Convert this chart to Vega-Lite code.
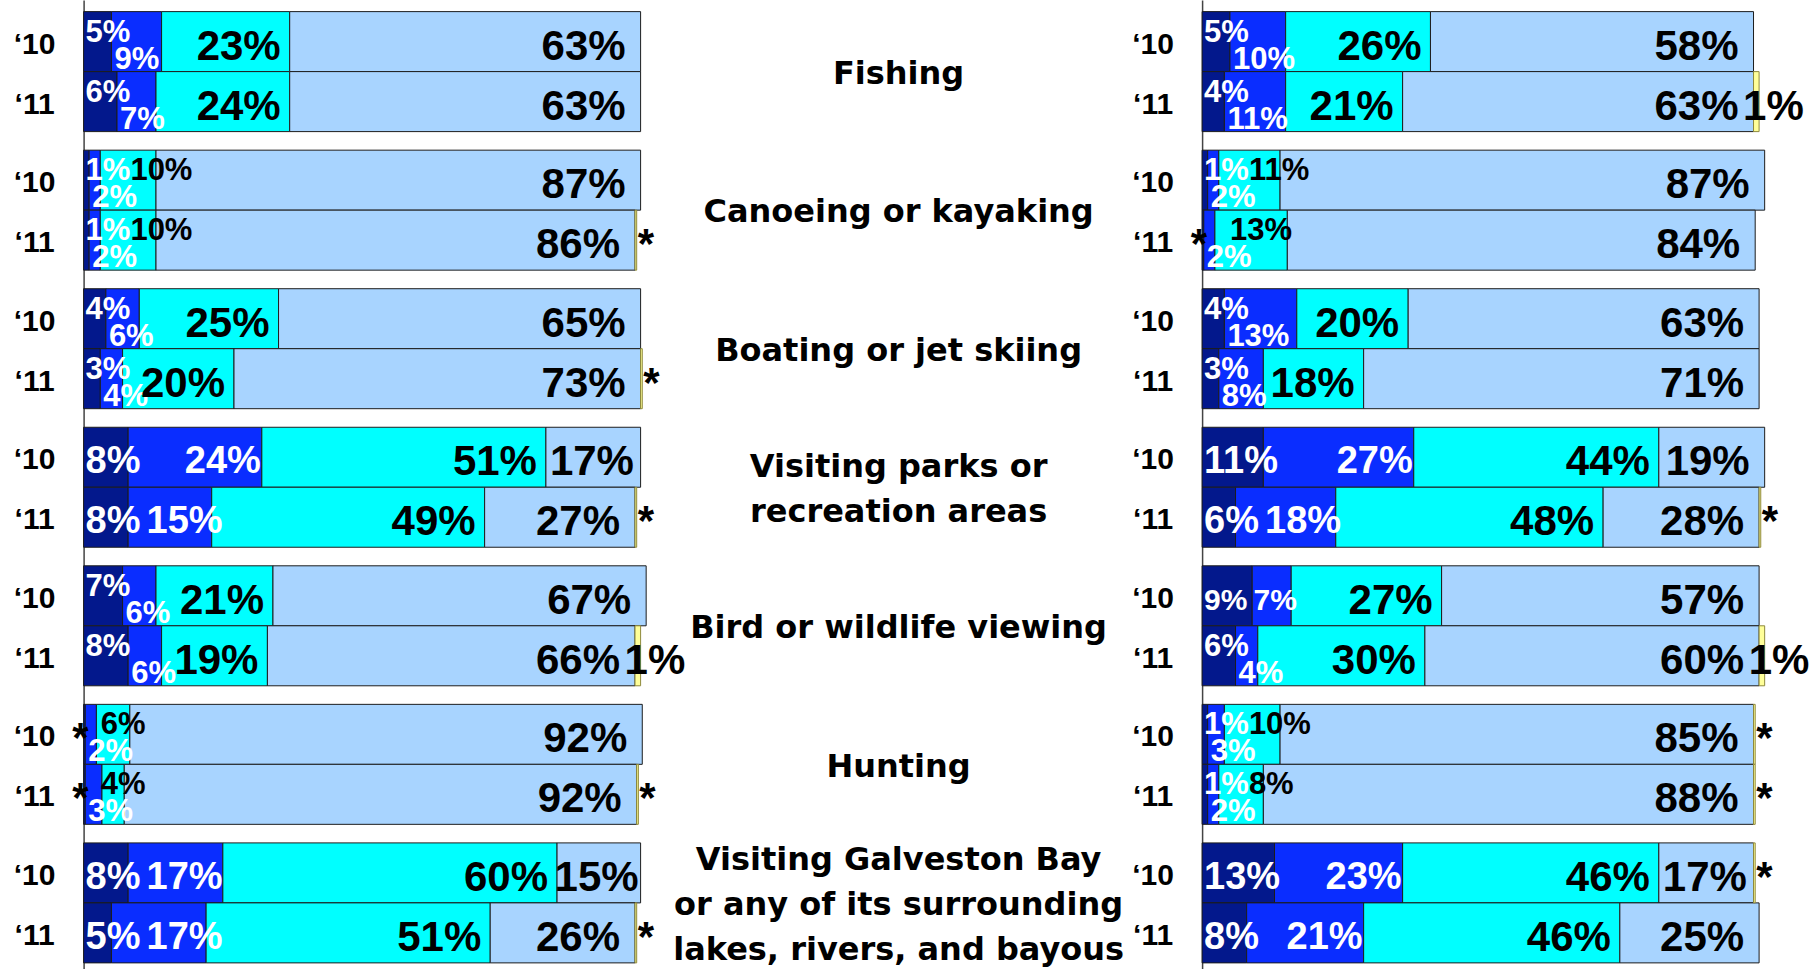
{
  "$schema": "https://vega.github.io/schema/vega-lite/v6.json",
  "autosize": {"type": "pad"},
  "padding": {"left": 13.6, "top": 0, "right": 0, "bottom": 0},
  "background": "white",
  "bounds": "flush",
  "spacing": 561.5,
  "config": {"view": {"stroke": null}, "text": {"font": "Liberation Sans", "fontWeight": "bold"}},
  "datasets": {
    "survey": [
      {"panel": "L", "activity": "Fishing", "year": "‘10", "navy": 5, "blue": 9, "cyan": 23, "light": 63, "dk": 0},
      {"panel": "L", "activity": "Fishing", "year": "‘11", "navy": 6, "blue": 7, "cyan": 24, "light": 63, "dk": 0},
      {"panel": "L", "activity": "Canoeing or kayaking", "year": "‘10", "navy": 1, "blue": 2, "cyan": 10, "light": 87, "dk": 0},
      {"panel": "L", "activity": "Canoeing or kayaking", "year": "‘11", "navy": 1, "blue": 2, "cyan": 10, "light": 86, "dk": 0.3},
      {"panel": "L", "activity": "Boating or jet skiing", "year": "‘10", "navy": 4, "blue": 6, "cyan": 25, "light": 65, "dk": 0},
      {"panel": "L", "activity": "Boating or jet skiing", "year": "‘11", "navy": 3, "blue": 4, "cyan": 20, "light": 73, "dk": 0.3},
      {"panel": "L", "activity": "Visiting parks or|recreation areas", "year": "‘10", "navy": 8, "blue": 24, "cyan": 51, "light": 17, "dk": 0},
      {"panel": "L", "activity": "Visiting parks or|recreation areas", "year": "‘11", "navy": 8, "blue": 15, "cyan": 49, "light": 27, "dk": 0.3},
      {"panel": "L", "activity": "Bird or wildlife viewing", "year": "‘10", "navy": 7, "blue": 6, "cyan": 21, "light": 67, "dk": 0},
      {"panel": "L", "activity": "Bird or wildlife viewing", "year": "‘11", "navy": 8, "blue": 6, "cyan": 19, "light": 66, "dk": 1},
      {"panel": "L", "activity": "Hunting", "year": "‘10", "navy": 0.3, "blue": 2, "cyan": 6, "light": 92, "dk": 0},
      {"panel": "L", "activity": "Hunting", "year": "‘11", "navy": 0.3, "blue": 3, "cyan": 4, "light": 92, "dk": 0.3},
      {"panel": "L", "activity": "Visiting Galveston Bay|or any of its surrounding|lakes, rivers, and bayous", "year": "‘10", "navy": 8, "blue": 17, "cyan": 60, "light": 15, "dk": 0},
      {"panel": "L", "activity": "Visiting Galveston Bay|or any of its surrounding|lakes, rivers, and bayous", "year": "‘11", "navy": 5, "blue": 17, "cyan": 51, "light": 26, "dk": 0.3},
      {"panel": "R", "activity": "Fishing", "year": "‘10", "navy": 5, "blue": 10, "cyan": 26, "light": 58, "dk": 0},
      {"panel": "R", "activity": "Fishing", "year": "‘11", "navy": 4, "blue": 11, "cyan": 21, "light": 63, "dk": 1},
      {"panel": "R", "activity": "Canoeing or kayaking", "year": "‘10", "navy": 1, "blue": 2, "cyan": 11, "light": 87, "dk": 0},
      {"panel": "R", "activity": "Canoeing or kayaking", "year": "‘11", "navy": 0.3, "blue": 2, "cyan": 13, "light": 84, "dk": 0},
      {"panel": "R", "activity": "Boating or jet skiing", "year": "‘10", "navy": 4, "blue": 13, "cyan": 20, "light": 63, "dk": 0},
      {"panel": "R", "activity": "Boating or jet skiing", "year": "‘11", "navy": 3, "blue": 8, "cyan": 18, "light": 71, "dk": 0},
      {"panel": "R", "activity": "Visiting parks or|recreation areas", "year": "‘10", "navy": 11, "blue": 27, "cyan": 44, "light": 19, "dk": 0},
      {"panel": "R", "activity": "Visiting parks or|recreation areas", "year": "‘11", "navy": 6, "blue": 18, "cyan": 48, "light": 28, "dk": 0.3},
      {"panel": "R", "activity": "Bird or wildlife viewing", "year": "‘10", "navy": 9, "blue": 7, "cyan": 27, "light": 57, "dk": 0},
      {"panel": "R", "activity": "Bird or wildlife viewing", "year": "‘11", "navy": 6, "blue": 4, "cyan": 30, "light": 60, "dk": 1},
      {"panel": "R", "activity": "Hunting", "year": "‘10", "navy": 1, "blue": 3, "cyan": 10, "light": 85, "dk": 0.3},
      {"panel": "R", "activity": "Hunting", "year": "‘11", "navy": 1, "blue": 2, "cyan": 8, "light": 88, "dk": 0.3},
      {"panel": "R", "activity": "Visiting Galveston Bay|or any of its surrounding|lakes, rivers, and bayous", "year": "‘10", "navy": 13, "blue": 23, "cyan": 46, "light": 17, "dk": 0.3},
      {"panel": "R", "activity": "Visiting Galveston Bay|or any of its surrounding|lakes, rivers, and bayous", "year": "‘11", "navy": 8, "blue": 21, "cyan": 46, "light": 25, "dk": 0}
    ]
  },
  "hconcat": [
    {
      "width": 557, "height": 969,
      "data": {"name": "survey"},
      "transform": [
        {"filter": "datum.panel === 'L'"},
        {"fold": ["navy", "blue", "cyan", "light", "dk"], "as": ["cat", "value"]},
        {"calculate": "indexof(['navy','blue','cyan','light','dk'], datum.cat)", "as": "idx"},
        {"stack": "value", "groupby": ["activity", "year"], "sort": [{"field": "idx", "order": "ascending"}], "as": ["x0", "x1"]},
        {"calculate": "datum.navy < 9 && datum.blue < 14", "as": "crowded"},
        {"calculate": "!datum.crowded && (datum.navy + datum.blue) < 17", "as": "tight"},
        {"calculate": "datum.tight ? 30 : 38", "as": "fs"},
        {"calculate": "datum.value < 0.5 ? '*' : format(datum.value, 'd') + '%'", "as": "lbl"},
        {"calculate": "max(datum.x1 * 5.57 - 1, 8 + ((datum.navy >= 10 ? 2 : 1) * 0.556 + 0.889) * datum.fs + ((datum.blue >= 10 ? 2 : 1) * 0.556 + 0.889) * datum.fs) / 5.57", "as": "bx"},
        {"calculate": "max((datum.x0 + datum.x1) / 2 * 5.57 + 10 - ((datum.value >= 10 ? 2 : 1) * 0.556 + 0.889) * 15.5, datum.navy >= 0.5 ? 2 + ((datum.navy >= 10 ? 2 : 1) * 0.556 + 0.889) * 31 : 0) / 5.57", "as": "cxl"},
        {"calculate": "min(datum.x1 * 5.57 - 2, max(datum.x1 * 5.57 - 15, datum.x0 * 5.57 + 4 + ((datum.value >= 10 ? 2 : 1) * 0.556 + 0.889) * 42)) / 5.57", "as": "lx"}
      ],
      "encoding": {
        "y": {
          "field": "activity", "type": "nominal",
          "sort": ["Fishing", "Canoeing or kayaking", "Boating or jet skiing", "Visiting parks or|recreation areas", "Bird or wildlife viewing", "Hunting", "Visiting Galveston Bay|or any of its surrounding|lakes, rivers, and bayous"],
          "scale": {"paddingInner": 0.134, "paddingOuter": 0.064, "align": 0.655},
          "axis": {"labels": false, "ticks": false, "grid": false, "title": null, "domain": true, "domainColor": "#444444", "domainWidth": 1.5}
        },
        "yOffset": {"field": "year", "type": "nominal", "sort": ["‘10", "‘11"], "scale": {"paddingInner": 0, "paddingOuter": 0}}
      },
      "layer": [
        {
          "transform": [{"filter": "datum.cat !== 'dk' && datum.value > 0"}],
          "mark": {"type": "bar", "stroke": "#1c1c1c", "strokeWidth": 1},
          "encoding": {
            "x": {"field": "x0", "type": "quantitative", "scale": {"domain": [0, 100], "nice": false, "zero": false}, "axis": null},
            "x2": {"field": "x1"},
            "color": {"field": "cat", "type": "nominal", "scale": {"domain": ["navy", "blue", "cyan", "light", "dk"], "range": ["#03188C", "#0A2DFF", "#00FFFF", "#A8D4FF", "#FFFF99"]}, "legend": null}
          }
        },
        {
          "transform": [{"filter": "datum.cat === 'dk' && datum.value > 0"}],
          "mark": {"type": "bar", "stroke": "#8f8a3c", "strokeWidth": 1},
          "encoding": {
            "x": {"field": "x0", "type": "quantitative", "axis": null},
            "x2": {"field": "x1"},
            "color": {"field": "cat", "type": "nominal", "legend": null}
          }
        },
        {
          "transform": [{"filter": "datum.cat === 'navy'"}],
          "mark": {"type": "text", "align": "center", "baseline": "middle", "dx": -49, "dy": 3, "fontSize": 30, "fill": "black"},
          "encoding": {"x": {"datum": 0, "type": "quantitative", "axis": null}, "text": {"field": "year"}}
        },
        {
          "transform": [{"filter": "datum.cat === 'navy' && datum.value >= 0.5 && datum.crowded"}],
          "mark": {"type": "text", "align": "left", "baseline": "middle", "dx": 2, "dy": -9, "fontSize": 31, "fill": "white"},
          "encoding": {"x": {"field": "x0", "type": "quantitative", "axis": null}, "text": {"field": "lbl"}}
        },
        {
          "transform": [{"filter": "datum.cat === 'navy' && datum.value >= 0.5 && !datum.crowded"}],
          "mark": {"type": "text", "align": "left", "baseline": "middle", "dx": 2, "dy": 5, "fill": "white"},
          "encoding": {"x": {"field": "x0", "type": "quantitative", "axis": null}, "text": {"field": "lbl"}, "size": {"field": "fs", "type": "quantitative", "scale": null}}
        },
        {
          "transform": [{"filter": "datum.cat === 'navy' && datum.value > 0 && datum.value < 0.5"}],
          "mark": {"type": "text", "align": "right", "baseline": "middle", "dx": 5, "dy": 5, "fontSize": 42, "fill": "black"},
          "encoding": {"x": {"field": "x0", "type": "quantitative", "axis": null}, "text": {"field": "lbl"}}
        },
        {
          "transform": [{"filter": "datum.cat === 'blue' && datum.crowded"}],
          "mark": {"type": "text", "align": "left", "baseline": "middle", "dx": 3, "dy": 18, "fontSize": 31, "fill": "white"},
          "encoding": {"x": {"field": "x0", "type": "quantitative", "axis": null}, "text": {"field": "lbl"}}
        },
        {
          "transform": [{"filter": "datum.cat === 'blue' && !datum.crowded"}],
          "mark": {"type": "text", "align": "right", "baseline": "middle", "dy": 5, "fill": "white"},
          "encoding": {"x": {"field": "bx", "type": "quantitative", "axis": null}, "text": {"field": "lbl"}, "size": {"field": "fs", "type": "quantitative", "scale": null}}
        },
        {
          "transform": [{"filter": "datum.cat === 'cyan' && datum.value <= 13"}],
          "mark": {"type": "text", "align": "left", "baseline": "middle", "dy": -9, "fontSize": 31, "fill": "black"},
          "encoding": {"x": {"field": "cxl", "type": "quantitative", "axis": null}, "text": {"field": "lbl"}}
        },
        {
          "transform": [{"filter": "datum.cat === 'cyan' && datum.value > 13"}],
          "mark": {"type": "text", "align": "right", "baseline": "middle", "dx": -9, "dy": 5, "fontSize": 42, "fill": "black"},
          "encoding": {"x": {"field": "x1", "type": "quantitative", "axis": null}, "text": {"field": "lbl"}}
        },
        {
          "transform": [{"filter": "datum.cat === 'light'"}],
          "mark": {"type": "text", "align": "right", "baseline": "middle", "dy": 5, "fontSize": 42, "fill": "black"},
          "encoding": {"x": {"field": "lx", "type": "quantitative", "axis": null}, "text": {"field": "lbl"}}
        },
        {
          "transform": [{"filter": "datum.cat === 'dk' && datum.value >= 0.5"}],
          "mark": {"type": "text", "align": "left", "baseline": "middle", "dx": -16, "dy": 5, "fontSize": 42, "fill": "black"},
          "encoding": {"x": {"field": "x1", "type": "quantitative", "axis": null}, "text": {"field": "lbl"}}
        },
        {
          "transform": [{"filter": "datum.cat === 'dk' && datum.value > 0 && datum.value < 0.5"}],
          "mark": {"type": "text", "align": "left", "baseline": "middle", "dx": 1, "dy": 5, "fontSize": 42, "fill": "black"},
          "encoding": {"x": {"field": "x1", "type": "quantitative", "axis": null}, "text": {"field": "lbl"}}
        }
      ]
    },
    {
      "width": 557, "height": 969,
      "data": {"name": "survey"},
      "transform": [
        {"filter": "datum.panel === 'R'"},
        {"fold": ["navy", "blue", "cyan", "light", "dk"], "as": ["cat", "value"]},
        {"calculate": "indexof(['navy','blue','cyan','light','dk'], datum.cat)", "as": "idx"},
        {"stack": "value", "groupby": ["activity", "year"], "sort": [{"field": "idx", "order": "ascending"}], "as": ["x0", "x1"]},
        {"calculate": "datum.navy < 9 && datum.blue < 14", "as": "crowded"},
        {"calculate": "!datum.crowded && (datum.navy + datum.blue) < 17", "as": "tight"},
        {"calculate": "datum.tight ? 30 : 38", "as": "fs"},
        {"calculate": "datum.value < 0.5 ? '*' : format(datum.value, 'd') + '%'", "as": "lbl"},
        {"calculate": "max(datum.x1 * 5.57 - 1, 8 + ((datum.navy >= 10 ? 2 : 1) * 0.556 + 0.889) * datum.fs + ((datum.blue >= 10 ? 2 : 1) * 0.556 + 0.889) * datum.fs) / 5.57", "as": "bx"},
        {"calculate": "max((datum.x0 + datum.x1) / 2 * 5.57 + 10 - ((datum.value >= 10 ? 2 : 1) * 0.556 + 0.889) * 15.5, datum.navy >= 0.5 ? 2 + ((datum.navy >= 10 ? 2 : 1) * 0.556 + 0.889) * 31 : 0) / 5.57", "as": "cxl"},
        {"calculate": "min(datum.x1 * 5.57 - 2, max(datum.x1 * 5.57 - 15, datum.x0 * 5.57 + 4 + ((datum.value >= 10 ? 2 : 1) * 0.556 + 0.889) * 42)) / 5.57", "as": "lx"}
      ],
      "encoding": {
        "y": {
          "field": "activity", "type": "nominal",
          "sort": ["Fishing", "Canoeing or kayaking", "Boating or jet skiing", "Visiting parks or|recreation areas", "Bird or wildlife viewing", "Hunting", "Visiting Galveston Bay|or any of its surrounding|lakes, rivers, and bayous"],
          "scale": {"paddingInner": 0.134, "paddingOuter": 0.064, "align": 0.655},
          "axis": {
            "labels": true, "ticks": false, "grid": false, "title": null,
            "domain": true, "domainColor": "#444444", "domainWidth": 1.5,
            "labelPadding": 304, "labelAlign": "center", "labelBaseline": "middle", "labelOffset": -43,
            "labelFont": "DejaVu Sans", "labelFontSize": 32, "labelFontWeight": "bold", "labelColor": "black",
            "labelLineHeight": 22.6, "labelLimit": 0, "labelOverlap": false, "labelBound": false,
            "labelExpr": "split((length(split(datum.value, '|')) == 1 ? '\u2800|\u2800|' : length(split(datum.value, '|')) == 2 ? '\u2800|' : '') + join(split(datum.value, '|'), '|\u2800|'), '|')"
          }
        },
        "yOffset": {"field": "year", "type": "nominal", "sort": ["‘10", "‘11"], "scale": {"paddingInner": 0, "paddingOuter": 0}}
      },
      "layer": [
        {
          "transform": [{"filter": "datum.cat !== 'dk' && datum.value > 0"}],
          "mark": {"type": "bar", "stroke": "#1c1c1c", "strokeWidth": 1},
          "encoding": {
            "x": {"field": "x0", "type": "quantitative", "scale": {"domain": [0, 100], "nice": false, "zero": false}, "axis": null},
            "x2": {"field": "x1"},
            "color": {"field": "cat", "type": "nominal", "scale": {"domain": ["navy", "blue", "cyan", "light", "dk"], "range": ["#03188C", "#0A2DFF", "#00FFFF", "#A8D4FF", "#FFFF99"]}, "legend": null}
          }
        },
        {
          "transform": [{"filter": "datum.cat === 'dk' && datum.value > 0"}],
          "mark": {"type": "bar", "stroke": "#8f8a3c", "strokeWidth": 1},
          "encoding": {
            "x": {"field": "x0", "type": "quantitative", "axis": null},
            "x2": {"field": "x1"},
            "color": {"field": "cat", "type": "nominal", "legend": null}
          }
        },
        {
          "transform": [{"filter": "datum.cat === 'navy'"}],
          "mark": {"type": "text", "align": "center", "baseline": "middle", "dx": -49, "dy": 3, "fontSize": 30, "fill": "black"},
          "encoding": {"x": {"datum": 0, "type": "quantitative", "axis": null}, "text": {"field": "year"}}
        },
        {
          "transform": [{"filter": "datum.cat === 'navy' && datum.value >= 0.5 && datum.crowded"}],
          "mark": {"type": "text", "align": "left", "baseline": "middle", "dx": 2, "dy": -9, "fontSize": 31, "fill": "white"},
          "encoding": {"x": {"field": "x0", "type": "quantitative", "axis": null}, "text": {"field": "lbl"}}
        },
        {
          "transform": [{"filter": "datum.cat === 'navy' && datum.value >= 0.5 && !datum.crowded"}],
          "mark": {"type": "text", "align": "left", "baseline": "middle", "dx": 2, "dy": 5, "fill": "white"},
          "encoding": {"x": {"field": "x0", "type": "quantitative", "axis": null}, "text": {"field": "lbl"}, "size": {"field": "fs", "type": "quantitative", "scale": null}}
        },
        {
          "transform": [{"filter": "datum.cat === 'navy' && datum.value > 0 && datum.value < 0.5"}],
          "mark": {"type": "text", "align": "right", "baseline": "middle", "dx": 5, "dy": 5, "fontSize": 42, "fill": "black"},
          "encoding": {"x": {"field": "x0", "type": "quantitative", "axis": null}, "text": {"field": "lbl"}}
        },
        {
          "transform": [{"filter": "datum.cat === 'blue' && datum.crowded"}],
          "mark": {"type": "text", "align": "left", "baseline": "middle", "dx": 3, "dy": 18, "fontSize": 31, "fill": "white"},
          "encoding": {"x": {"field": "x0", "type": "quantitative", "axis": null}, "text": {"field": "lbl"}}
        },
        {
          "transform": [{"filter": "datum.cat === 'blue' && !datum.crowded"}],
          "mark": {"type": "text", "align": "right", "baseline": "middle", "dy": 5, "fill": "white"},
          "encoding": {"x": {"field": "bx", "type": "quantitative", "axis": null}, "text": {"field": "lbl"}, "size": {"field": "fs", "type": "quantitative", "scale": null}}
        },
        {
          "transform": [{"filter": "datum.cat === 'cyan' && datum.value <= 13"}],
          "mark": {"type": "text", "align": "left", "baseline": "middle", "dy": -9, "fontSize": 31, "fill": "black"},
          "encoding": {"x": {"field": "cxl", "type": "quantitative", "axis": null}, "text": {"field": "lbl"}}
        },
        {
          "transform": [{"filter": "datum.cat === 'cyan' && datum.value > 13"}],
          "mark": {"type": "text", "align": "right", "baseline": "middle", "dx": -9, "dy": 5, "fontSize": 42, "fill": "black"},
          "encoding": {"x": {"field": "x1", "type": "quantitative", "axis": null}, "text": {"field": "lbl"}}
        },
        {
          "transform": [{"filter": "datum.cat === 'light'"}],
          "mark": {"type": "text", "align": "right", "baseline": "middle", "dy": 5, "fontSize": 42, "fill": "black"},
          "encoding": {"x": {"field": "lx", "type": "quantitative", "axis": null}, "text": {"field": "lbl"}}
        },
        {
          "transform": [{"filter": "datum.cat === 'dk' && datum.value >= 0.5"}],
          "mark": {"type": "text", "align": "left", "baseline": "middle", "dx": -16, "dy": 5, "fontSize": 42, "fill": "black"},
          "encoding": {"x": {"field": "x1", "type": "quantitative", "axis": null}, "text": {"field": "lbl"}}
        },
        {
          "transform": [{"filter": "datum.cat === 'dk' && datum.value > 0 && datum.value < 0.5"}],
          "mark": {"type": "text", "align": "left", "baseline": "middle", "dx": 1, "dy": 5, "fontSize": 42, "fill": "black"},
          "encoding": {"x": {"field": "x1", "type": "quantitative", "axis": null}, "text": {"field": "lbl"}}
        }
      ]
    }
  ]
}
